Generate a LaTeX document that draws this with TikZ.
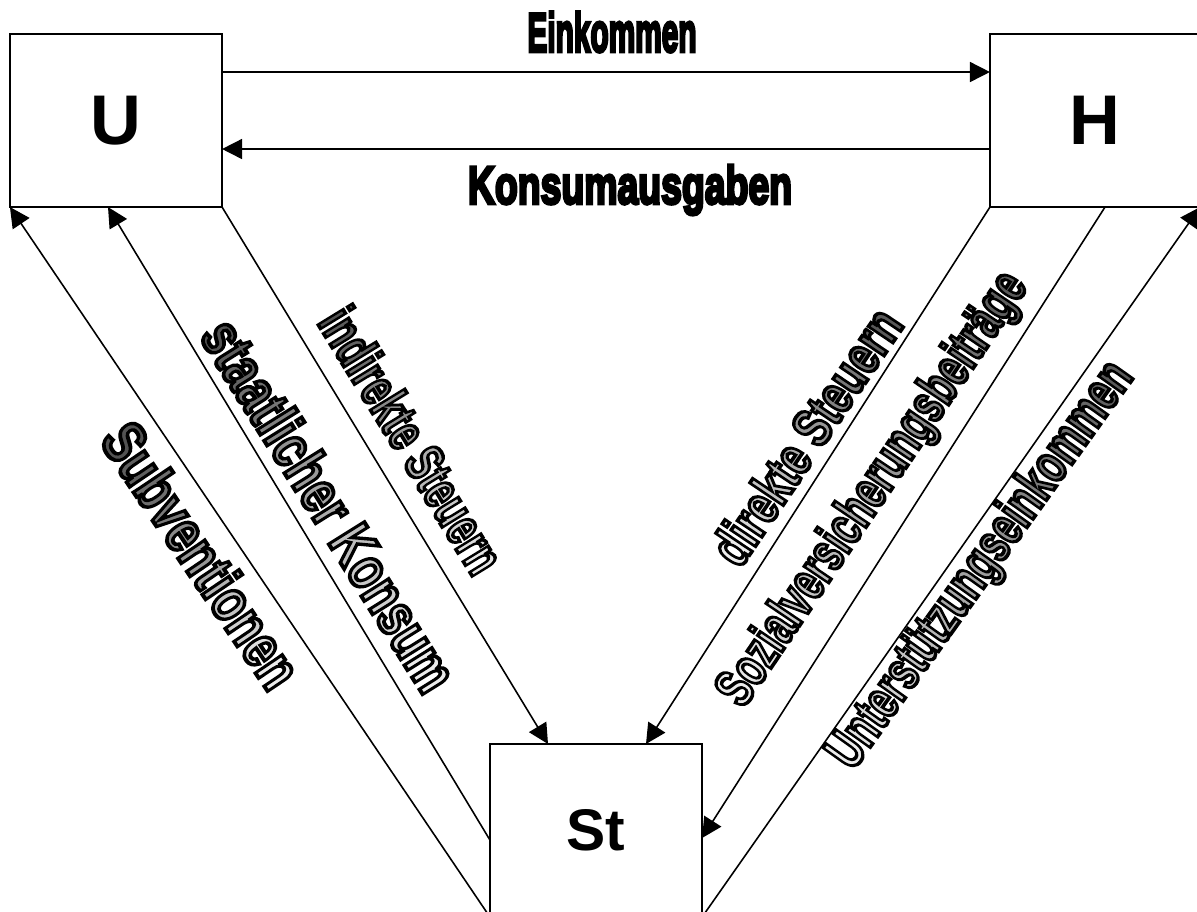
\documentclass[tikz,border=0pt]{standalone}
\usepackage{fontspec}
\setmainfont{Liberation Sans}
\usetikzlibrary{arrows.meta}
\ExplSyntaxOn
\int_new:N \l_wa_i_int
\int_new:N \l_wa_n_int
\NewDocumentCommand\gradtext{mmm}{
  \group_begin:
  \bfseries
  \int_set:Nn \l_wa_n_int {\str_count:n{#3}}
  \int_zero:N \l_wa_i_int
  \str_map_inline:nn {#3} {
    \color{black!\int_eval:n{#1 + (#2-#1)*\l_wa_i_int/(\l_wa_n_int-1)}}
    \special{pdf:literal~direct~0~G~2~Tr~0.65~w}
    ##1
    \int_incr:N \l_wa_i_int
  }
  \special{pdf:literal~direct~0~Tr}
  \group_end:
}
\ExplSyntaxOff
\newcommand\heavytext[1]{{\color{black}\special{pdf:literal direct 2 Tr 0.6 w}\bfseries #1\special{pdf:literal direct 0 Tr}}}
% width, height, start shade, end shade, text
\newcommand\wa[5]{\resizebox{#1cm}{#2cm}{\gradtext{#3}{#4}{#5}}}
\tikzset{
  box/.style={draw, line width=0.6pt, inner sep=0pt, outer sep=0pt, font=\bfseries\fontsize{20}{20}\selectfont},
  arr/.style={line width=0.45pt, -{Triangle[length=0.2cm,width=0.2cm]}},
  lbl/.style={inner sep=0pt}
}
\begin{document}
\begin{tikzpicture}[x=0.01cm,y=-0.01cm]
\useasboundingbox (0,0) rectangle (1197,911);
\clip (0,0) rectangle (1197,911);
% boxes
\node[box, minimum width=2.12cm, minimum height=1.73cm] (U) at (116,120.5) {U};
\node[box, minimum width=2.10cm, minimum height=1.73cm] (H) at (1095,120.5) {H};
\node[box, minimum width=2.12cm, minimum height=1.73cm, font=\bfseries\fontsize{16.7}{16.7}\selectfont] (St) at (596,830.5) {St};
% horizontal flows
\draw[arr] (U.east |- 0,72) -- (H.west |- 0,72);
\draw[arr] (H.west |- 0,149) -- (U.east |- 0,149);
% left flows
\draw[arr] (St.south west) -- (U.south west);
\draw[arr] (St.west |- 0,840) -- (U.south -| 108,0);
\draw[arr] (U.south east) -- (St.north -| 548,0);
% right flows
\draw[arr] (H.south west) -- (St.north -| 646,0);
\draw[arr] (H.south -| 1105,0) -- (St.east |- 0,838);
\draw[arr] (St.south east) -- (H.south east);
% word art labels
\node[lbl, rotate=-56] (lSub) at (202,555) {\wa{3.05}{0.44}{68}{8}{Subventionen}};
\node[lbl, rotate=-58] (lKon) at (330,505) {\wa{4.25}{0.44}{68}{8}{staatlicher Konsum}};
\node[lbl, rotate=-58.5] (lInd) at (412,440) {\wa{3.00}{0.40}{68}{10}{indirekte Steuern}};
\node[lbl, rotate=56] (lDir) at (806,436) {\wa{2.95}{0.40}{8}{65}{direkte Steuern}};
\node[lbl, rotate=56] (lSoz) at (874,490) {\wa{5.10}{0.40}{8}{65}{Sozialversicherungsbeiträge}};
\node[lbl, rotate=54.5] (lUnt) at (982,566) {\wa{4.85}{0.40}{8}{65}{Unterstützungseinkommen}};
% heavy labels
\node[lbl] (lEin) at (612,32) {\resizebox{1.69cm}{0.40cm}{\heavytext{Einkommen}}};
\node[lbl] (lKau) at (630,190) {\resizebox*{3.24cm}{0.50cm}{\heavytext{Konsumausgaben}}};
\end{tikzpicture}
\end{document}
